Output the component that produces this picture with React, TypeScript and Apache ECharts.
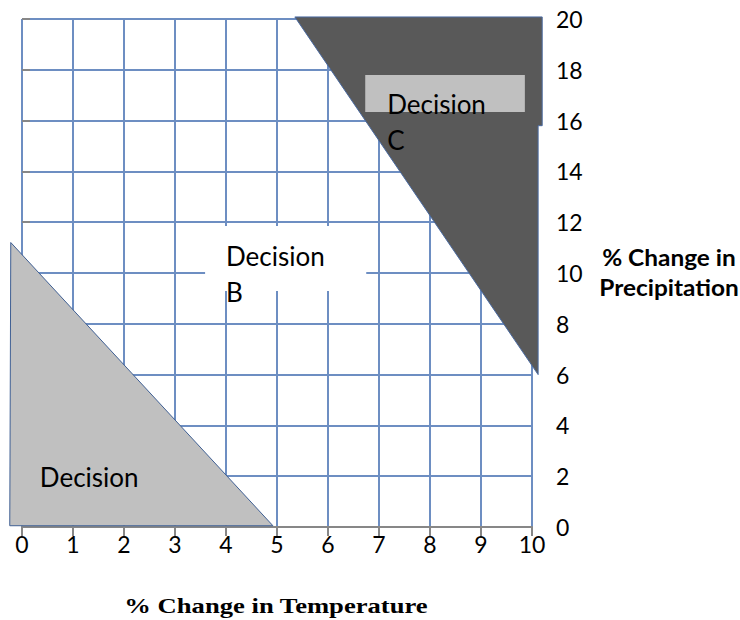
import React, { useEffect, useRef } from "react";
import * as echarts from "echarts";

// Data (axis values)
const xTicks = [0, 1, 2, 3, 4, 5, 6, 7, 8, 9, 10];
const yMin = 0;
const yMax = 20;
const yStep = 2;

// Decision regions (vertices in data units: % temp, % precip)
const regionA = [[-0.22, 11.2], [-0.24, 0.05], [4.92, 0.05]];
const regionC = [[5.35, 20.08], [10.2, 20.08], [10.2, 15.8], [10.12, 15.8], [10.12, 6.0]];
// Text boxes [x0, yTop, x1, yBottom]
const boxB = [3.59, 11.85, 6.75, 9.29];
const boxC = [6.73, 17.8, 9.86, 16.34];
// Labels [text, x, y]
const labels: [string, number, number][] = [
  ["Decision", 0.35, 1.97],
  ["Decision", 4.0, 10.67],
  ["B", 4.0, 9.25],
  ["Decision", 7.16, 16.65],
  ["C", 7.16, 15.24],
];
const xTitle = "% Change in Temperature";
const yTitle = "% Change in\nPrecipitation";

const GRID = "#6d8ec2";

export default function App() {
  const ref = useRef<HTMLDivElement>(null);
  useEffect(() => {
    document.body.style.margin = "0";
    const chart = echarts.init(ref.current!, null, { renderer: "svg" });
    const shapes = [
      { kind: "rect", box: boxB, fill: "#ffffff", stroke: null },
      { kind: "poly", pts: regionA, fill: "#c0c0c0", stroke: "#3f5f93" },
      { kind: "poly", pts: regionC, fill: "#595959", stroke: "#4a6aa0" },
      { kind: "rect", box: boxC, fill: "#c0c0c0", stroke: null },
    ];
    chart.setOption({
      animation: false,
      grid: { left: 22, right: 208, top: 19, bottom: 93, outerBoundsMode: "none", containLabel: false },
      xAxis: {
        type: "value",
        min: xTicks[0],
        max: xTicks[xTicks.length - 1],
        interval: 1,
        axisLine: { show: true, lineStyle: { color: "#878787", width: 2 } },
        axisTick: { show: true, length: 9, lineStyle: { color: "#878787", width: 2 } },
        axisLabel: { color: "#000", fontFamily: "Lato", fontSize: 23, margin: 5 },
        splitLine: { show: true, lineStyle: { color: GRID, width: 2 } },
      },
      yAxis: {
        type: "value",
        position: "right",
        min: yMin,
        max: yMax,
        interval: yStep,
        axisLine: { show: false },
        axisTick: { show: true, length: 8, lineStyle: { color: "#878787", width: 2 } },
        axisLabel: { color: "#000", fontFamily: "Lato", fontSize: 23, margin: 24 },
        splitLine: { show: true, lineStyle: { color: GRID, width: 2 } },
      },
      graphic: [
        {
          type: "text",
          x: 276,
          y: 605.5,
          scaleX: 1.21,
          style: {
            text: xTitle,
            fontFamily: "Liberation Serif",
            fontWeight: "bold",
            fontSize: 22,
            fill: "#000",
            align: "center",
            verticalAlign: "middle",
          },
        },
        {
          type: "text",
          x: 669,
          y: 272,
          scaleX: 1.11,
          style: {
            text: yTitle,
            fontFamily: "Lato",
            fontWeight: "bold",
            fontSize: 22,
            lineHeight: 30,
            fill: "#000",
            align: "center",
            verticalAlign: "middle",
          },
        },
      ],
      series: [
        {
          type: "custom",
          clip: false,
          silent: true,
          data: shapes.map((_, i) => [i]),
          renderItem: (params: any, api: any) => {
            const s: any = shapes[params.dataIndex];
            if (s.kind === "rect") {
              const p0 = api.coord([s.box[0], s.box[1]]);
              const p1 = api.coord([s.box[2], s.box[3]]);
              return {
                type: "rect",
                shape: { x: p0[0], y: p0[1], width: p1[0] - p0[0], height: p1[1] - p0[1] },
                style: { fill: s.fill },
              };
            }
            return {
              type: "polygon",
              shape: { points: s.pts.map((p: number[]) => api.coord(p)) },
              style: { fill: s.fill, stroke: s.stroke, lineWidth: 1 },
            };
          },
        },
        {
          type: "custom",
          clip: false,
          silent: true,
          data: labels.map((l) => [l[1], l[2]]),
          renderItem: (params: any, api: any) => {
            const l = labels[params.dataIndex];
            const p = api.coord([l[1], l[2]]);
            return {
              type: "text",
              x: p[0],
              y: p[1],
              style: {
                text: l[0],
                fontFamily: "Lato",
                fontSize: 26,
                fill: "#000",
                align: "left",
                verticalAlign: "middle",
              },
            };
          },
        },
      ],
    });
    return () => chart.dispose();
  }, []);
  return <div ref={ref} style={{ width: 740, height: 620 }} />;
}
